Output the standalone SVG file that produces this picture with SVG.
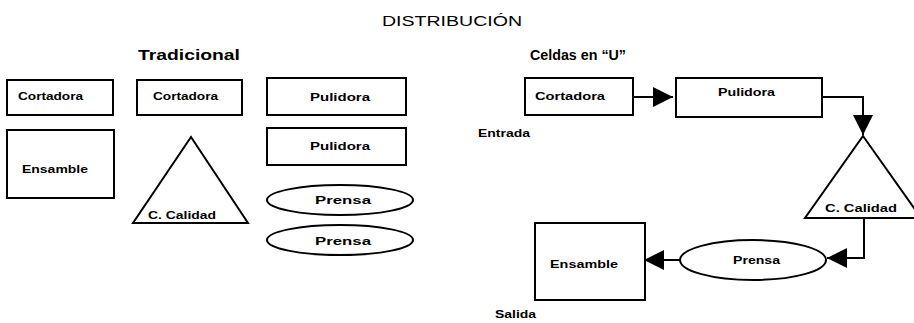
<svg xmlns="http://www.w3.org/2000/svg" width="914" height="323" viewBox="0 0 914 323">
<style>
.s{fill:#fff;stroke:#000;stroke-width:2}
.c{fill:none;stroke:#000;stroke-width:2}
text{font-family:"Liberation Sans",Arial,sans-serif;fill:#000}
.l{font-size:11px;font-weight:bold}
.h{font-size:15px;font-weight:bold}
</style>
<defs>
<marker id="ah" viewBox="0 0 10 10" refX="10" refY="5" markerWidth="20" markerHeight="20" markerUnits="userSpaceOnUse" orient="auto"><path d="M0,0L10,5L0,10z" fill="#000"/></marker>
</defs>
<rect width="914" height="323" fill="#fff"/>
<text x="382" y="26" font-size="14" textLength="140" lengthAdjust="spacingAndGlyphs">DISTRIBUCIÓN</text>
<text class="h" x="138" y="60" textLength="102" lengthAdjust="spacingAndGlyphs">Tradicional</text>
<text class="h" x="530" y="60" textLength="96" lengthAdjust="spacingAndGlyphs">Celdas en “U”</text>
<g id="t-cortadora1"><rect class="s" x="7" y="80" width="106" height="35"/><text class="l" x="18" y="100" textLength="65" lengthAdjust="spacingAndGlyphs">Cortadora</text></g>
<g id="t-ensamble"><rect class="s" x="7" y="130" width="107" height="68"/><text class="l" x="22" y="173" textLength="66" lengthAdjust="spacingAndGlyphs">Ensamble</text></g>
<g id="t-cortadora2"><rect class="s" x="137" y="80" width="105" height="35"/><text class="l" x="153" y="100" textLength="65" lengthAdjust="spacingAndGlyphs">Cortadora</text></g>
<g id="t-calidad"><polygon class="s" points="191,137 248,223 133,223"/><text class="l" x="148" y="219" textLength="68" lengthAdjust="spacingAndGlyphs">C. Calidad</text></g>
<g id="t-pulidora1"><rect class="s" x="267" y="78" width="139" height="37"/><text class="l" x="310" y="101" textLength="60" lengthAdjust="spacingAndGlyphs">Pulidora</text></g>
<g id="t-pulidora2"><rect class="s" x="267" y="128" width="139" height="37"/><text class="l" x="310" y="150" textLength="60" lengthAdjust="spacingAndGlyphs">Pulidora</text></g>
<g id="t-prensa1"><ellipse class="s" cx="340" cy="200" rx="73" ry="15"/><text class="l" x="315" y="204" textLength="56" lengthAdjust="spacingAndGlyphs">Prensa</text></g>
<g id="t-prensa2"><ellipse class="s" cx="340" cy="240" rx="73" ry="15"/><text class="l" x="315" y="245" textLength="56" lengthAdjust="spacingAndGlyphs">Prensa</text></g>
<g id="connectors">
<path class="c" d="M633,97H673" marker-end="url(#ah)"/>
<path class="c" d="M822,97H863V135" marker-end="url(#ah)"/>
<path class="c" d="M864,218V258H827" marker-end="url(#ah)"/>
<path class="c" d="M680,260H644" marker-end="url(#ah)"/>
</g>
<g id="u-cortadora"><rect class="s" x="525" y="78" width="108" height="37"/><text class="l" x="535" y="100" textLength="70" lengthAdjust="spacingAndGlyphs">Cortadora</text></g>
<g id="u-pulidora"><rect class="s" x="676" y="78" width="146" height="39"/><text class="l" x="718" y="96" textLength="57" lengthAdjust="spacingAndGlyphs">Pulidora</text></g>
<g id="u-calidad"><polygon class="s" points="863,136 921,218 805,218"/><text class="l" x="825" y="212" textLength="72" lengthAdjust="spacingAndGlyphs">C. Calidad</text></g>
<g id="u-prensa"><ellipse class="s" cx="753" cy="260" rx="73" ry="20"/><text class="l" x="733" y="264" textLength="47" lengthAdjust="spacingAndGlyphs">Prensa</text></g>
<g id="u-ensamble"><rect class="s" x="535" y="223" width="110" height="77"/><text class="l" x="550" y="268" textLength="68" lengthAdjust="spacingAndGlyphs">Ensamble</text></g>
<text class="l" x="478" y="137" textLength="52" lengthAdjust="spacingAndGlyphs">Entrada</text>
<text class="l" x="495" y="318" textLength="41" lengthAdjust="spacingAndGlyphs">Salida</text>
</svg>
